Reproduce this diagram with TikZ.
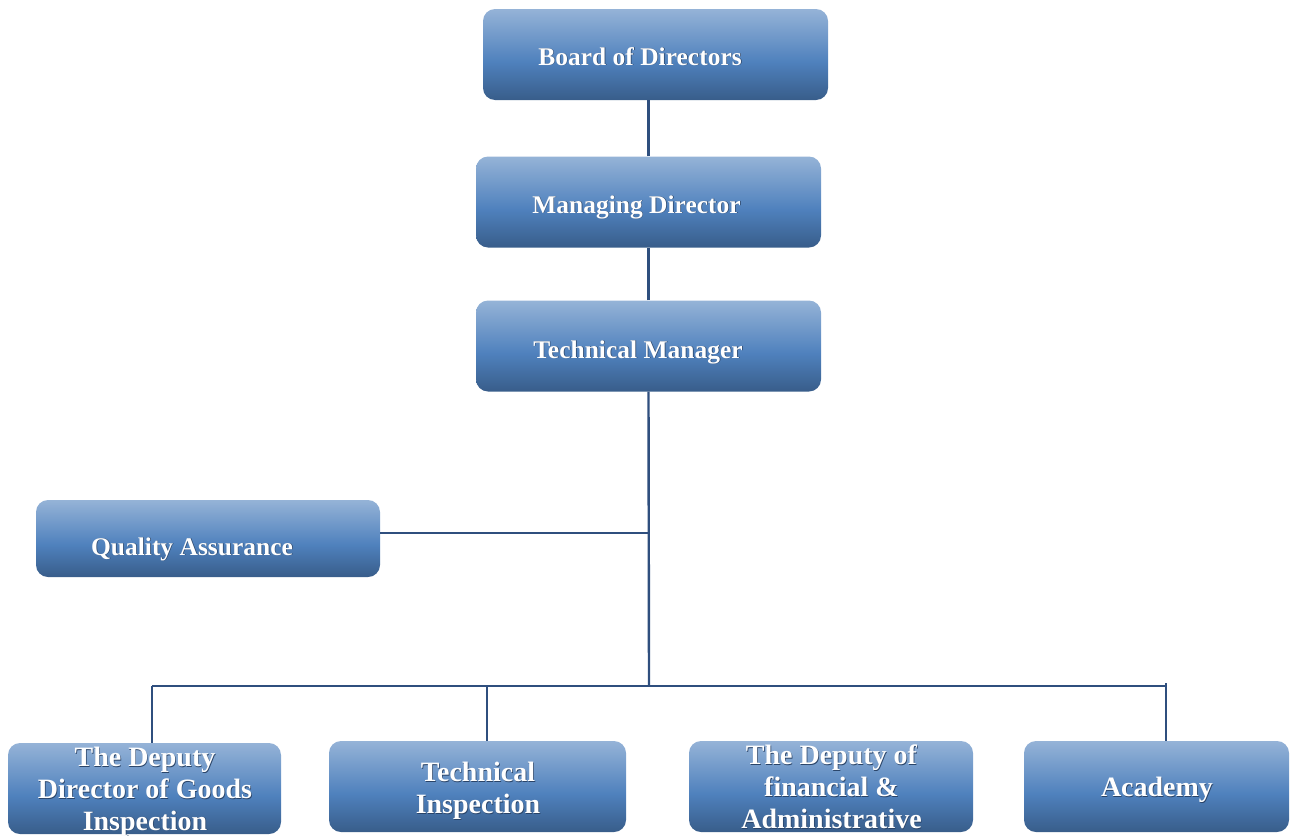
\documentclass[tikz,border=0pt]{standalone}
\usepackage{fontspec}
\setmainfont{Liberation Serif}
\definecolor{boxtop}{HTML}{95B3D7}
\definecolor{boxmid}{HTML}{4F81BD}
\definecolor{boxbot}{HTML}{385D8A}
\definecolor{linec}{HTML}{2F4F7E}
\definecolor{shadowc}{HTML}{2A4468}
\pgfdeclareverticalshading{boxshade}{100bp}{color(0bp)=(boxbot); color(25bp)=(boxbot); color(46bp)=(boxmid); color(75bp)=(boxtop); color(100bp)=(boxtop)}
\newcommand\shtxt[1]{\leavevmode\rlap{\kern0.7pt\raisebox{-0.7pt}{\textcolor{shadowc}{#1}}}#1}
\begin{document}
\begin{tikzpicture}[x=1pt,y=-1pt,
  box/.style={rounded corners=12pt, shading=boxshade, draw=none, inner sep=0pt},
  txt/.style={inner sep=0pt, text=white, align=center, anchor=base},
  topfont/.style={font=\bfseries\fontsize{25.5}{30}\selectfont},
  botfont/.style={font=\bfseries\fontsize{28}{31.7}\selectfont},
  conn/.style={draw=linec, line width=2.4pt}]
\useasboundingbox (0,0) rectangle (1291,838);

% boxes
\node[box, minimum width=345pt, minimum height=91pt] (bod) at (655.5,54.5) {};
\node[box, minimum width=345pt, minimum height=91pt] (md) at (648.5,202) {};
\node[box, minimum width=345pt, minimum height=91pt] (tm) at (648.5,346) {};
\node[box, minimum width=344pt, minimum height=77pt] (qa) at (208,538.5) {};
\node[box, minimum width=273pt, minimum height=91pt] (d1) at (144.5,788.5) {};
\node[box, minimum width=297pt, minimum height=91pt] (d2) at (477.5,786.5) {};
\node[box, minimum width=284pt, minimum height=91pt] (d3) at (831,786.5) {};
\node[box, minimum width=265pt, minimum height=91pt] (d4) at (1156.5,786.5) {};

% texts (base anchor = baseline of the last line)
\node[txt, topfont] (bodt) at (640,65) {\shtxt{Board of Directors}};
\node[txt, topfont] (mdt) at (636.5,213) {\shtxt{Managing Director}};
\node[txt, topfont] (tmt) at (638,358) {\shtxt{Technical Manager}};
\node[txt, topfont] (qat) at (192,555) {\shtxt{Quality Assurance}};
\node[txt, botfont] (d1t) at (145,830) {\shtxt{The Deputy}\\\shtxt{Director of Goods}\\\shtxt{Inspection}};
\node[txt, botfont] (d2t) at (478,813.3) {\shtxt{Technical}\\\shtxt{Inspection}};
\node[txt, botfont] (d3t) at (831.5,828.3) {\shtxt{The Deputy of}\\\shtxt{financial \&}\\\shtxt{Administrative}};
\node[txt, botfont] (d4t) at (1157,796.7) {\shtxt{Academy}};

% connectors
\coordinate (jq) at (649,533);
\coordinate (bus) at (649,686);
\coordinate (b1) at (152,686);
\coordinate (b2) at (487,686);
\coordinate (b4) at (1166,686);

\draw[conn] (md.north) -- (md.north |- bod.south);
\draw[conn] (tm.north) -- (md.south);
\draw[conn] (tm.south) -- (bus);
\draw[conn] (jq) -- (jq -| qa.east);
\draw[conn] (b1) -- (b4);
\draw[conn] (b1) -- (b1 |- d1.north);
\draw[conn] (b2) -- (b2 |- d2.north);
\draw[conn] ([yshift=3pt]b4) -- (b4 |- d4.north);
\end{tikzpicture}
\end{document}
